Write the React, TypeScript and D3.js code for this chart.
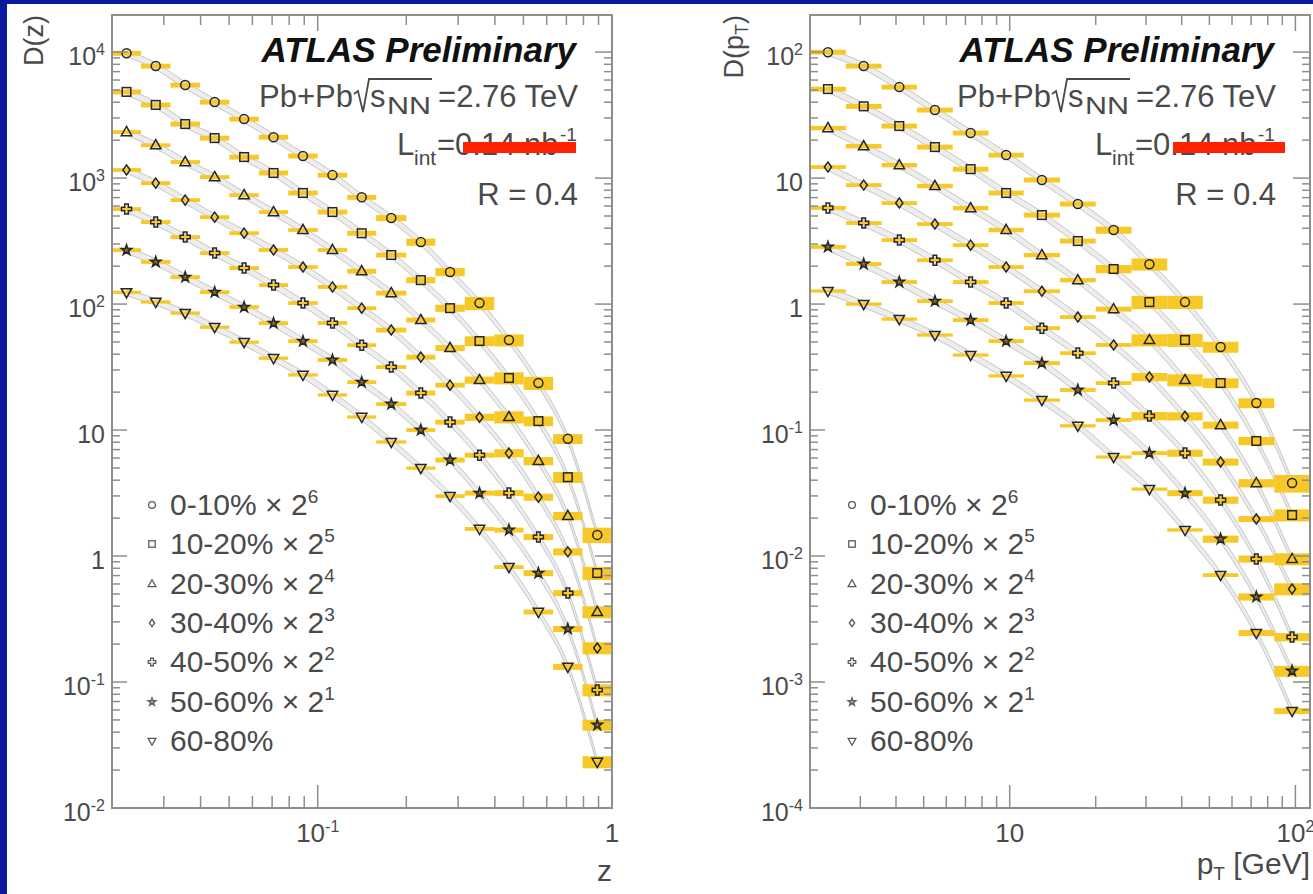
import React from "react";
import * as d3 from "d3";

// ---------------- data ----------------
const centralityBins = ["0-10%", "10-20%", "20-30%", "30-40%", "40-50%", "50-60%", "60-80%"];
const scalePowers = [6, 5, 4, 3, 2, 1, 0];

// bin edges
const zBinEdges = [0.02, 0.0251, 0.0316, 0.0398, 0.0501, 0.0631, 0.0794, 0.1, 0.126, 0.158, 0.2, 0.251, 0.316, 0.398, 0.501, 0.631, 0.794, 1.0];
const ptBinEdges = [2, 2.67, 3.56, 4.74, 6.32, 8.43, 11.2, 15.0, 20.0, 26.7, 35.6, 47.4, 63.2, 84.3, 112.5];

// D(z), unscaled, per centrality bin
const dz00_10 = [153, 121, 85.5, 62.7, 45.9, 33.0, 23.4, 16.5, 11.0, 7.53, 4.85, 2.81, 1.59, 0.809, 0.369, 0.133, 0.0230];
const dz10_20 = [151, 119, 83.9, 64.9, 45.9, 34.3, 23.8, 16.8, 11.4, 7.66, 4.84, 2.90, 1.59, 0.809, 0.368, 0.132, 0.0229];
const dz20_30 = [145, 114, 83.8, 63.7, 45.8, 33.6, 24.2, 16.8, 11.4, 7.64, 4.67, 2.80, 1.56, 0.793, 0.355, 0.130, 0.0225];
const dz30_40 = [145, 114, 83.6, 61.2, 45.7, 33.6, 24.6, 17.1, 11.6, 7.78, 4.74, 2.84, 1.58, 0.820, 0.367, 0.135, 0.0233];
const dz40_50 = [142, 112, 85.1, 63.5, 48.3, 35.4, 25.5, 17.7, 11.8, 7.91, 4.92, 2.89, 1.58, 0.791, 0.354, 0.127, 0.0216];
const dz50_60 = [134, 108, 81.8, 62.2, 47.3, 35.3, 25.4, 18.0, 12.0, 8.04, 5.00, 2.89, 1.58, 0.804, 0.366, 0.132, 0.0228];
const dz60_80 = [124, 104, 84.9, 65.6, 49.9, 37.2, 27.4, 19.0, 12.7, 8.04, 4.99, 2.99, 1.64, 0.818, 0.360, 0.132, 0.0232];

// relative systematic uncertainties of D(z)
const sysZ00_10 = [0.045, 0.045, 0.045, 0.045, 0.045, 0.045, 0.045, 0.045, 0.045, 0.055, 0.065, 0.075, 0.12, 0.11, 0.12, 0.09, 0.14];
const sysZ10_20 = [0.045, 0.045, 0.045, 0.045, 0.045, 0.045, 0.045, 0.045, 0.045, 0.045, 0.055, 0.065, 0.09, 0.11, 0.09, 0.10, 0.12];
const sysZ20_30 = [0.035, 0.035, 0.035, 0.035, 0.035, 0.035, 0.035, 0.035, 0.045, 0.045, 0.045, 0.055, 0.065, 0.11, 0.075, 0.075, 0.11];
const sysZ30_40 = [0.035, 0.035, 0.035, 0.035, 0.035, 0.035, 0.035, 0.035, 0.035, 0.045, 0.045, 0.045, 0.065, 0.075, 0.065, 0.065, 0.11];
const sysZ40_50 = [0.035, 0.035, 0.035, 0.035, 0.035, 0.035, 0.035, 0.035, 0.035, 0.035, 0.045, 0.045, 0.045, 0.055, 0.055, 0.055, 0.11];
const sysZ50_60 = [0.035, 0.035, 0.035, 0.035, 0.035, 0.035, 0.035, 0.035, 0.035, 0.035, 0.035, 0.045, 0.045, 0.045, 0.055, 0.055, 0.10];
const sysZ60_80 = [0.03, 0.03, 0.03, 0.03, 0.03, 0.03, 0.03, 0.03, 0.03, 0.03, 0.03, 0.035, 0.035, 0.035, 0.045, 0.055, 0.11];

// D(pT), unscaled, per centrality bin
const dpt00_10 = [1.56, 1.21, 0.824, 0.542, 0.356, 0.238, 0.151, 0.0973, 0.0604, 0.0324, 0.0162, 0.00713, 0.00256, 0.000593];
const dpt10_20 = [1.59, 1.16, 0.809, 0.551, 0.368, 0.238, 0.159, 0.0989, 0.0593, 0.0324, 0.0162, 0.00738, 0.00256, 0.000661];
const dpt20_30 = [1.56, 1.12, 0.792, 0.541, 0.361, 0.242, 0.153, 0.0968, 0.0570, 0.0324, 0.0156, 0.00685, 0.00237, 0.000592];
const dpt30_40 = [1.53, 1.10, 0.792, 0.540, 0.367, 0.246, 0.158, 0.0986, 0.0592, 0.0330, 0.0161, 0.00697, 0.00246, 0.000684];
const dpt40_50 = [1.45, 1.10, 0.805, 0.558, 0.374, 0.255, 0.161, 0.102, 0.0590, 0.0323, 0.0164, 0.00695, 0.00237, 0.000569];
const dpt50_60 = [1.42, 1.04, 0.748, 0.528, 0.373, 0.254, 0.170, 0.104, 0.0600, 0.0328, 0.0158, 0.00682, 0.00237, 0.000611];
const dpt60_80 = [1.27, 1.00, 0.760, 0.568, 0.394, 0.269, 0.173, 0.108, 0.0611, 0.0340, 0.0161, 0.00706, 0.00245, 0.000589];

// relative systematic uncertainties of D(pT)
const sysPt00_10 = [0.045, 0.045, 0.045, 0.045, 0.045, 0.045, 0.045, 0.045, 0.065, 0.11, 0.12, 0.10, 0.09, 0.16];
const sysPt10_20 = [0.045, 0.045, 0.045, 0.045, 0.045, 0.045, 0.045, 0.045, 0.075, 0.12, 0.12, 0.09, 0.075, 0.11];
const sysPt20_30 = [0.04, 0.04, 0.04, 0.04, 0.04, 0.04, 0.04, 0.04, 0.045, 0.11, 0.11, 0.065, 0.075, 0.11];
const sysPt30_40 = [0.035, 0.035, 0.035, 0.035, 0.035, 0.035, 0.035, 0.035, 0.035, 0.075, 0.075, 0.065, 0.055, 0.11];
const sysPt40_50 = [0.035, 0.035, 0.035, 0.035, 0.035, 0.035, 0.035, 0.035, 0.035, 0.075, 0.065, 0.065, 0.065, 0.075];
const sysPt50_60 = [0.035, 0.035, 0.035, 0.035, 0.035, 0.035, 0.035, 0.035, 0.035, 0.035, 0.055, 0.065, 0.065, 0.10];
const sysPt60_80 = [0.03, 0.03, 0.03, 0.03, 0.03, 0.03, 0.03, 0.03, 0.03, 0.03, 0.03, 0.035, 0.055, 0.055];

// width of the grey reference band around each series (relative)
const bandHalfWidth = 0.06;

// axis tick labels (powers of ten)
const zYTickExps = [-2, -1, 0, 1, 2, 3, 4];
const ptYTickExps = [-4, -3, -2, -1, 0, 1, 2];
const zXTickExps = [-1, 0];
const ptXTickExps = [1, 2];

// ---------------- style ----------------
const FONT = '"Liberation Sans", Arial, Helvetica, sans-serif';
const TEXT = "#4a4a4a";
const FRAME_COL = "#8e8e8e";
const MARK = "#262626";
const YELLOW = "#f7c928";
const BLUE = "#0b1a9c";

type Frame = { x0: number; x1: number; y0: number; y1: number };

function Marker({ kind, x, y, s = 1, color = MARK, sw = 1.5 }: { kind: number; x: number; y: number; s?: number; color?: string; sw?: number }) {
  const t = `translate(${x},${y}) scale(${s})`;
  const common = { fill: "none", stroke: color, strokeWidth: sw / s };
  switch (kind) {
    case 0:
      return <circle transform={t} r={4.5} {...common} />;
    case 1:
      return <rect transform={t} x={-4.3} y={-4.3} width={8.6} height={8.6} {...common} />;
    case 2:
      return <path transform={t} d="M0,-5.6L5.2,3.6L-5.2,3.6Z" {...common} />;
    case 3:
      return <path transform={t} d="M0,-5L3.6,0L0,5L-3.6,0Z" {...common} />;
    case 4:
      return <path transform={t} d="M-1.8,-5H1.8V-1.8H5V1.8H1.8V5H-1.8V1.8H-5V-1.8H-1.8Z" {...common} />;
    case 5:
      return <path transform={t} d={d3.symbol().type(d3.symbolStar).size(34)() as string} {...common} fill={color} fillOpacity={0.55} />;
    default:
      return <path transform={t} d="M0,5.6L5.2,-3.6L-5.2,-3.6Z" {...common} />;
  }
}

function PowLabel({ exp, x, y, anchor, size, supSize }: { exp: number; x: number; y: number; anchor: string; size: number; supSize: number }) {
  if (exp === 0 || exp === 1) {
    return (
      <text x={x} y={y} textAnchor={anchor} fontSize={size} fill={TEXT} fontFamily={FONT}>
        {exp === 0 ? "1" : "10"}
      </text>
    );
  }
  return (
    <text x={x} y={y} textAnchor={anchor} fontSize={size} fill={TEXT} fontFamily={FONT}>
      10
      <tspan fontSize={supSize} dy={-10}>{exp < 0 ? `-${-exp}` : `${exp}`}</tspan>
    </text>
  );
}

type PanelProps = {
  frame: Frame;
  xDomain: [number, number];
  yDomain: [number, number];
  edges: number[];
  series: number[][];
  sys: number[][];
  yExps: number[];
  xExps: number[];
  yTitle: React.ReactNode;
  yTitleX: number;
  xTitle: React.ReactNode;
  xTitleY: number;
  redBar: [number, number];
  legendMarkX: number;
  legendTextX: number;
  clipId: string;
};

function Panel(p: PanelProps) {
  const { frame } = p;
  const x = d3.scaleLog().domain(p.xDomain).range([frame.x0, frame.x1]);
  const y = d3.scaleLog().domain(p.yDomain).range([frame.y1, frame.y0]);
  const R = frame.x1;

  const centers = p.edges.slice(0, -1).map((e, i) => Math.sqrt(e * p.edges[i + 1]));

  // ticks
  const xTicks = x.ticks();
  const yTicks = y.ticks();
  const isMajor = (v: number) => Math.abs(Math.log10(v) - Math.round(Math.log10(v))) < 1e-6;

  const line = d3.line<[number, number]>().curve(d3.curveMonotoneX);
  const area = d3
    .area<[number, number, number]>()
    .x((d) => d[0])
    .y0((d) => d[1])
    .y1((d) => d[2])
    .curve(d3.curveMonotoneX);

  const legendBase = [515, 554, 594, 633, 672, 712, 751];

  return (
    <g>
      <defs>
        <clipPath id={p.clipId}>
          <rect x={frame.x0} y={frame.y0} width={frame.x1 - frame.x0} height={frame.y1 - frame.y0} />
        </clipPath>
      </defs>

      <g clipPath={`url(#${p.clipId})`}>
        {/* grey bands */}
        {p.series.map((vals, si) => {
          const k = Math.pow(2, scalePowers[si]);
          const pts: [number, number, number][] = vals.map((v, i) => [x(centers[i]), y(v * k * (1 + bandHalfWidth)), y(v * k * (1 - bandHalfWidth))]);
          return (
            <g key={`band${si}`}>
              <path d={area(pts) as string} fill="#ededed" />
              <path d={line(pts.map((d) => [d[0], d[1]])) as string} fill="none" stroke="#c6c6c6" strokeWidth={1} />
              <path d={line(pts.map((d) => [d[0], d[2]])) as string} fill="none" stroke="#c6c6c6" strokeWidth={1} />
            </g>
          );
        })}

        {/* systematic boxes */}
        {p.series.map((vals, si) => {
          const k = Math.pow(2, scalePowers[si]);
          return vals.map((v, i) => {
            const r = p.sys[si][i];
            const yt = y(v * k * (1 + r));
            const yb = y(v * k * (1 - r));
            return (
              <rect
                key={`box${si}-${i}`}
                x={x(p.edges[i])}
                y={yt}
                width={x(p.edges[i + 1]) - x(p.edges[i])}
                height={Math.max(2.5, yb - yt)}
                fill={YELLOW}
              />
            );
          });
        })}

        {/* markers */}
        {p.series.map((vals, si) => {
          const k = Math.pow(2, scalePowers[si]);
          return vals.map((v, i) => <Marker key={`m${si}-${i}`} kind={si} x={x(centers[i])} y={y(v * k)} />);
        })}
      </g>

      {/* frame & ticks */}
      <rect x={frame.x0} y={frame.y0} width={frame.x1 - frame.x0} height={frame.y1 - frame.y0} fill="none" stroke={FRAME_COL} strokeWidth={2} />
      {xTicks.map((t, i) => {
        const px = x(t);
        const maj = isMajor(t);
        return (
          <g key={`xt${i}`} stroke={FRAME_COL} strokeWidth={1.5}>
            <line x1={px} x2={px} y1={frame.y1} y2={frame.y1 - (maj ? 23 : 12)} />
            <line x1={px} x2={px} y1={frame.y0} y2={frame.y0 + (maj ? 16 : 10)} />
          </g>
        );
      })}
      {yTicks.map((t, i) => {
        const py = y(t);
        const maj = isMajor(t);
        return (
          <g key={`yt${i}`} stroke={FRAME_COL} strokeWidth={1.5}>
            <line x1={frame.x0} x2={frame.x0 + (maj ? 15 : 8)} y1={py} y2={py} />
            <line x1={frame.x1} x2={frame.x1 - (maj ? 17 : 8)} y1={py} y2={py} />
          </g>
        );
      })}

      {/* tick labels */}
      {p.yExps.map((e) => (
        <PowLabel key={`yl${e}`} exp={e} x={frame.x0 - 7} y={y(Math.pow(10, e)) + 13} anchor="end" size={25} supSize={16} />
      ))}
      {p.xExps.map((e) => (
        <PowLabel key={`xl${e}`} exp={e} x={x(Math.pow(10, e))} y={842} anchor="middle" size={26} supSize={16} />
      ))}

      {/* axis titles */}
      <text transform={`translate(${p.yTitleX},${frame.y0}) rotate(-90)`} textAnchor="end" fontSize={27} fill={TEXT} fontFamily={FONT}>
        {p.yTitle}
      </text>
      <text x={R} y={p.xTitleY} textAnchor="end" fontSize={30} fill={TEXT} fontFamily={FONT}>
        {p.xTitle}
      </text>

      {/* labels */}
      <text x={R - 36} y={62} textAnchor="end" fontSize={35} fontWeight="bold" fontStyle="italic" fill="#111" fontFamily={FONT}>
        ATLAS Preliminary
      </text>
      <g fontFamily={FONT} fill={TEXT} fontSize={31}>
        <text x={R - 259} y={107} textAnchor="end">Pb+Pb</text>
        <path d={`M${R - 258},94 L${R - 254},91 L${R - 249},112 L${R - 243},79 L${R - 180},79`} fill="none" stroke={TEXT} strokeWidth={1.8} />
        <text x={R - 242} y={107}>s</text>
        <text x={R - 225} y={114} fontSize={23} textLength={44} lengthAdjust="spacingAndGlyphs">NN</text>
        <text x={R - 34} y={107} textAnchor="end">=2.76 TeV</text>

        <text x={R - 215} y={155}>L</text>
        <text x={R - 198} y={165} fontSize={21}>int</text>
        <text x={R - 175} y={155}>=0.14 nb</text>
        <text x={R - 52} y={141} fontSize={19}>-1</text>

        <text x={R - 34} y={205} textAnchor="end">R = 0.4</text>
      </g>
      <rect x={p.redBar[0]} y={142} width={p.redBar[1] - p.redBar[0]} height={11} fill="#ff2400" />

      {/* legend */}
      {centralityBins.map((c, i) => (
        <g key={`lg${i}`}>
          <Marker kind={i} x={p.legendMarkX} y={legendBase[i] - 10} s={0.75} color="#5a5a5a" sw={1.3} />
          <text x={p.legendTextX} y={legendBase[i]} fontSize={30} fill={TEXT} fontFamily={FONT}>
            {scalePowers[i] > 0 ? (
              <>
                {c} {"\u00d7"} 2<tspan fontSize={19} dy={-12}>{scalePowers[i]}</tspan>
              </>
            ) : (
              c
            )}
          </text>
        </g>
      ))}
    </g>
  );
}

export default function App() {
  const W = 1313;
  const H = 894;
  return (
    <svg width={W} height={H} style={{ position: "absolute", left: 0, top: 0, display: "block" }} xmlns="http://www.w3.org/2000/svg">
      <rect x={0} y={0} width={W} height={H} fill="#ffffff" />
      <rect x={0} y={0} width={7} height={H} fill={BLUE} />
      <rect x={0} y={0} width={W} height={4} fill={BLUE} />

      <Panel
        frame={{ x0: 112, x1: 612, y0: 15, y1: 808 }}
        xDomain={[0.02, 1]}
        yDomain={[0.01, 19700]}
        edges={zBinEdges}
        series={[dz00_10, dz10_20, dz20_30, dz30_40, dz40_50, dz50_60, dz60_80]}
        sys={[sysZ00_10, sysZ10_20, sysZ20_30, sysZ30_40, sysZ40_50, sysZ50_60, sysZ60_80]}
        yExps={zYTickExps}
        xExps={zXTickExps}
        yTitle={"D(z)"}
        yTitleX={43}
        xTitle={"z"}
        xTitleY={881}
        redBar={[463, 576]}
        legendMarkX={152}
        legendTextX={170}
        clipId="clipZ"
      />
      <Panel
        frame={{ x0: 810, x1: 1310, y0: 15, y1: 808 }}
        xDomain={[2, 112.5]}
        yDomain={[1e-4, 197]}
        edges={ptBinEdges}
        series={[dpt00_10, dpt10_20, dpt20_30, dpt30_40, dpt40_50, dpt50_60, dpt60_80]}
        sys={[sysPt00_10, sysPt10_20, sysPt20_30, sysPt30_40, sysPt40_50, sysPt50_60, sysPt60_80]}
        yExps={ptYTickExps}
        xExps={ptXTickExps}
        yTitle={
          <>
            D(p<tspan fontSize={18} dy={5}>T</tspan>
            <tspan dy={-5}>)</tspan>
          </>
        }
        yTitleX={743}
        xTitle={
          <>
            p<tspan fontSize={19} dy={6}>T</tspan>
            <tspan dy={-6}> [GeV]</tspan>
          </>
        }
        xTitleY={874}
        redBar={[1173, 1285]}
        legendMarkX={852}
        legendTextX={870}
        clipId="clipPt"
      />
    </svg>
  );
}
